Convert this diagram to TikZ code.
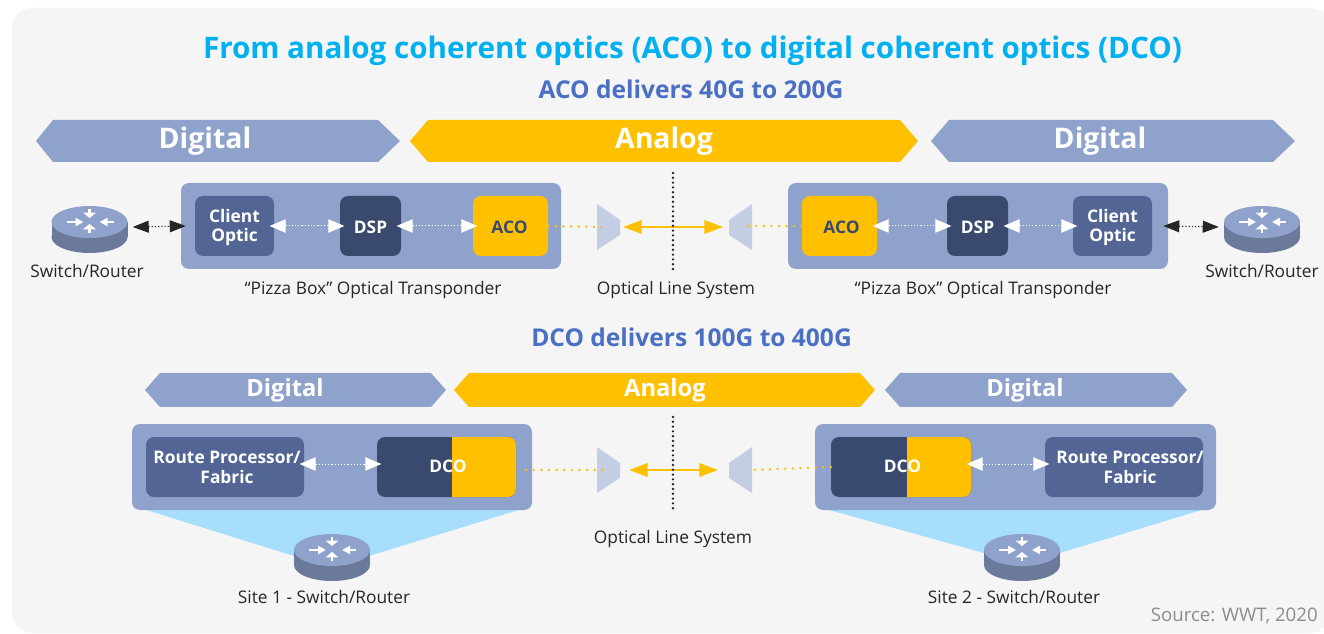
\documentclass[tikz,border=0pt]{standalone}
\usepackage{fontspec}
\setmainfont{Open Sans}
\usetikzlibrary{arrows.meta}
\definecolor{panelc}{HTML}{F5F5F5}
\definecolor{bluec}{HTML}{8FA2CB}
\definecolor{midc}{HTML}{536595}
\definecolor{darkc}{HTML}{3A4A6E}
\definecolor{yelc}{HTML}{FFC000}
\definecolor{titlec}{HTML}{00B0F0}
\definecolor{subc}{HTML}{4A6FC4}
\definecolor{skyc}{HTML}{A6DEFC}
\definecolor{muxc}{HTML}{C3CDE3}
\definecolor{sidec}{HTML}{6B7A9B}
\definecolor{srcc}{HTML}{8C8C8C}
\newcommand{\fs}[1]{\fontsize{#1}{#1}\selectfont}
\tikzset{
  x=0.75pt,y=-0.75pt,
  boxn/.style={inner sep=0pt,rounded corners=6pt},
  boxt/.style={inner sep=0pt,align=center,font=\fs{13}\bfseries\setlength{\baselineskip}{14.6pt},text=white},
  lbl/.style={inner sep=0pt,font=\fs{13},text=black!85},
  sub/.style={inner sep=0pt,font=\fs{18.4}\bfseries,text=subc},
  bigban/.style={inner sep=0pt,font=\fs{21.3}\bfseries,text=white},
  smlban/.style={inner sep=0pt,font=\fs{17.8}\bfseries,text=white},
  whitelink/.style={white,line width=0.75pt,dash pattern=on 0.9pt off 1.5pt,{Triangle[length=12pt,width=10pt]}-{Triangle[length=12pt,width=10pt]},shorten <=-3.5pt,shorten >=-3.5pt},
  blacklink/.style={black!85,line width=0.75pt,dash pattern=on 0.9pt off 1.5pt,{Triangle[length=12pt,width=9pt]}-{Triangle[length=12pt,width=9pt]}},
  yelarrow/.style={yelc,line width=2pt,{Triangle[length=14pt,width=10pt]}-{Triangle[length=14pt,width=10pt]}},
  yeldots/.style={yelc,line width=2pt,line cap=round,dash pattern=on 0pt off 5.7pt},
  blackdots/.style={black!85,line width=2pt,line cap=round,dash pattern=on 0pt off 3.6pt},
  rarrow/.style={white,line width=2.2pt,-{Triangle[length=4pt,width=9.5pt]}},
  rarrowh/.style={white,line width=1.5pt,-{Triangle[length=6pt,width=6pt]}},
}
\newcommand{\bx}[8]{\node[boxn,#6,minimum width={(#4-#2)*0.75pt},minimum height={(#5-#3)*0.75pt}] (#1) at ({(#2+#4)/2},{(#3+#5)/2}) {};
  \node[boxt,#8] (#1t) at ({(#2+#4)/2},{(#3+#5)/2+1.5}) {#7};}
\newcommand{\rtr}[3]{%
  \fill[sidec] (#2,#3+15) ellipse [x radius=38,y radius=16];
  \fill[sidec] (#2-38,#3) rectangle (#2+38,#3+15);
  \fill[bluec] (#2,#3) ellipse [x radius=38,y radius=16];
  \node[inner sep=0pt,minimum width=57pt,minimum height=30pt] (#1) at (#2,#3+5) {};
  \draw[rarrow] (#2,#3-13) -- (#2,#3-4);
  \draw[rarrow] (#2,#3+11) -- (#2,#3+2);
  \draw[rarrowh] (#2-23,#3) -- (#2-6,#3);
  \draw[rarrowh] (#2+24,#3) -- (#2+10,#3);
}
\newcommand{\muxl}[3]{\coordinate (#1) at (#2,#3); \fill[muxc] (#2,#3-23) -- (#2+23,#3-7) -- (#2+23,#3+8) -- (#2,#3+23) -- cycle;}
\newcommand{\muxr}[3]{\coordinate (#1) at (#2,#3); \fill[muxc] (#2,#3-23) -- (#2-23,#3-7) -- (#2-23,#3+8) -- (#2,#3+23) -- cycle;}
\begin{document}
\begin{tikzpicture}
\useasboundingbox (0,0) rectangle (1324,634);
\fill[white] (0,0) rectangle (1324,634);
\fill[panelc,rounded corners=15pt] (12,8) rectangle (1330,633);

\node[inner sep=0pt,font=\fs{22.2}\bfseries,text=titlec] (title) at (692.5,51) {From analog coherent optics (ACO) to digital coherent optics (DCO)};
\node[sub] (s1) at (691,89) {ACO delivers 40G to 200G};
\node[sub] (s2) at (691.5,337) {DCO delivers 100G to 400G};

% upper banners
\fill[bluec] (36,141) -- (53,120) -- (378,120) -- (400,141) -- (378,162) -- (53,162) -- cycle;
\node[bigban] (b1) at (205,141) {Digital};
\fill[yelc] (410,141) -- (428,120) -- (900,120) -- (918,141) -- (900,162) -- (428,162) -- cycle;
\node[bigban] (b2) at (664,141) {Analog};
\fill[bluec] (931,141) -- (949,120) -- (1273,120) -- (1295,141) -- (1273,162) -- (949,162) -- cycle;
\node[bigban] (b3) at (1100,141) {Digital};

% upper boxes
\bx{p1}{181}{183}{561}{269}{fill=bluec}{}{}
\bx{c1}{195}{196}{274}{256}{fill=midc}{Client\\Optic}{}
\bx{d1}{340}{196}{401}{256}{fill=darkc}{DSP}{}
\bx{a1}{473}{196}{548}{256}{fill=yelc}{ACO}{text=darkc,xshift=-0.75pt}
\bx{p2}{788}{183}{1168}{269}{fill=bluec}{}{}
\bx{a2}{802}{196}{877}{256}{fill=yelc}{ACO}{text=darkc,xshift=1.5pt}
\bx{d2}{947}{196}{1008}{256}{fill=darkc}{DSP}{}
\bx{c2}{1073}{196}{1152}{256}{fill=midc}{Client\\Optic}{}

\draw[whitelink] (c1.east) -- (d1.west);
\draw[whitelink] (d1.east) -- (a1.west);
\draw[whitelink] (a2.east) -- (d2.west);
\draw[whitelink] (d2.east) -- (c2.west);

\rtr{r1}{89.5}{222}
\rtr{r2}{1262}{222}
\path (r1.east) ++(5,0) coordinate (r1e) (p1.west) ++(5,0) coordinate (p1w);
\draw[blacklink] (r1e) -- (p1w);
\path (r2.west) ++(-5,0) coordinate (r2w) (p2.east) ++(-5,0) coordinate (p2e);
\draw[blacklink] (p2e) -- (r2w);

\muxl{m1}{597}{227}
\muxr{m2}{752}{227}
\coordinate (m1d) at (605,227);
\coordinate (m2d) at (741,226);
\coordinate (m1t) at (623,227);
\coordinate (m2t) at (723,227);
\coordinate (v1a) at (673,173);
\coordinate (v1b) at (673,270);
\draw[yeldots] (a1.east) -- (m1d);
\draw[yeldots] (a2.west) -- (m2d);
\draw[yelarrow] (m1t) -- (m2t);
\draw[blackdots] (v1a) -- (v1b);

\node[lbl] (l1) at (87,271) {Switch/Router};
\node[lbl] (l2) at (1262,271) {Switch/Router};
\node[lbl] (l3) at (373,290) {“Pizza Box” Optical Transponder};
\node[lbl] (l4) at (983,290) {“Pizza Box” Optical Transponder};
\node[lbl] (l5) at (676,290) {Optical Line System};

% lower banners
\fill[bluec] (145,390) -- (160,373) -- (431,373) -- (446,390) -- (431,407) -- (160,407) -- cycle;
\node[smlban] (b4) at (285,390) {Digital};
\fill[yelc] (454,390) -- (469,373) -- (860,373) -- (875,390) -- (860,407) -- (469,407) -- cycle;
\node[smlban] (b5) at (665,390) {Analog};
\fill[bluec] (885,390) -- (900,373) -- (1172,373) -- (1187,390) -- (1172,407) -- (900,407) -- cycle;
\node[smlban] (b6) at (1025,390) {Digital};

% sky trapezoids
\fill[skyc] (140,508) -- (525,508) -- (369,556) -- (294,556) -- cycle;
\fill[skyc] (822,508) -- (1208,508) -- (1060,553) -- (984,553) -- cycle;

% lower boxes
\bx{p3}{132}{424}{532}{510}{fill=bluec}{}{}
\bx{q1}{146}{437}{304}{497}{fill=midc}{Route Processor/\\Fabric}{xshift=1.5pt,yshift=0.9pt}
\bx{o1}{377}{437}{516}{497}{fill=darkc,path picture={\fill[yelc] (5.5,-40) rectangle (80,40);}}{}{}
\node[boxt] (o1x) at (448,466) {DCO};
\bx{p4}{815}{424}{1216}{510}{fill=bluec}{}{}
\bx{o2}{831}{437}{971}{497}{fill=darkc,path picture={\fill[yelc] (6,-40) rectangle (80,40);}}{}{}
\node[boxt] (o2x) at (902.5,466) {DCO};
\bx{q2}{1045}{437}{1203}{497}{fill=midc}{Route Processor/\\Fabric}{xshift=4.5pt,yshift=0.9pt}

\path (q1.east) ++(0,-3) coordinate (q1e) (o1.west) ++(0,-3) coordinate (o1w);
\draw[whitelink] (q1e) -- (o1w);
\path (o2.east) ++(0,-3) coordinate (o2e) (q2.west) ++(0,-3) coordinate (q2w);
\draw[whitelink] (o2e) -- (q2w);

\rtr{r3}{332}{550}
\rtr{r4}{1022}{550}

\muxl{m3}{597}{470}
\muxr{m4}{752}{470}
\coordinate (m3d) at (605,470);
\coordinate (m4d) at (750,470);
\coordinate (m3t) at (629,470);
\coordinate (m4t) at (718,470);
\coordinate (v2a) at (673,417);
\coordinate (v2b) at (673,512);
\path (o1.east) ++(10,3) coordinate (o1e);
\path (o2.west) coordinate (o2w);
\draw[yeldots] (o1e) -- (m3d);
\draw[yeldots] (o2w) -- (m4d);
\draw[yelarrow] (m3t) -- (m4t);
\draw[blackdots] (v2a) -- (v2b);

\node[lbl] (l6) at (673,539) {Optical Line System};
\node[lbl] (l7) at (324,597) {Site 1 - Switch/Router};
\node[lbl] (l8) at (1014,597) {Site 2 - Switch/Router};
\node[inner sep=0pt,anchor=east,font=\fs{14},text=srcc] (src) at (1318,616) {Source: WWT, 2020};
\end{tikzpicture}
\end{document}
